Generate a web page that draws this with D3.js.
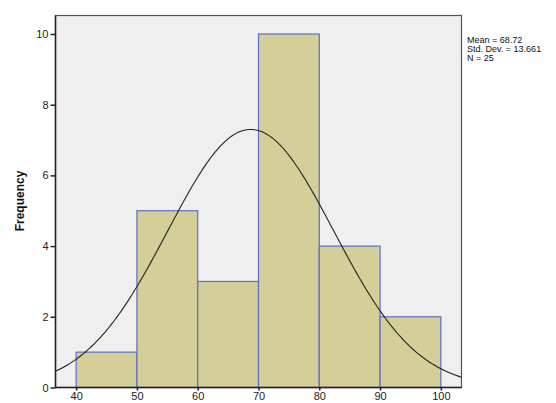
<!DOCTYPE html>
<html>
<head>
<meta charset="utf-8">
<script src="https://cdn.jsdelivr.net/npm/d3@7"></script>
<style>
body { margin: 0; background: #fff; }
text { font-family: Arial, "Liberation Sans", sans-serif; }
</style>
</head>
<body>
<svg id="chart" width="556" height="403"></svg>
<script>
// histogram bins (lower edge) and counts
var binStarts = [40, 50, 60, 70, 80, 90];
var binWidth = 10;
var counts = [1, 5, 3, 10, 4, 2];
var xTicks = [40, 50, 60, 70, 80, 90, 100];
var yTicks = [0, 2, 4, 6, 8, 10];
var statLines = ['Mean = 68.72', 'Std. Dev. = 13.661', 'N = 25'];
var mean = 68.72, sd = 13.661, n = 25;

var plot = { left: 55.5, right: 461.5, top: 15.5, bottom: 387.5 };

var svg = d3.select('#chart');

var x = d3.scaleLinear().domain([36.6, 103.4]).range([plot.left, plot.right]);
var y = d3.scaleLinear().domain([0, 10.5]).range([plot.bottom, plot.bottom - 10.5 * 35.35]);

// background
svg.append('rect')
	.attr('x', plot.left)
	.attr('y', plot.top)
	.attr('width', plot.right - plot.left)
	.attr('height', plot.bottom - plot.top)
	.attr('fill', '#efefef');

// bars
svg.selectAll('rect.bar')
	.data(binStarts)
	.enter()
	.append('rect')
	.attr('class', 'bar')
	.attr('x', d => x(d))
	.attr('width', d => x(d + binWidth) - x(d))
	.attr('y', (d, i) => y(counts[i]))
	.attr('height', (d, i) => y(0) - y(counts[i]))
	.attr('fill', '#d4cf98')
	.attr('stroke', '#5b6fc4')
	.attr('stroke-width', 1.2);

// normal curve from the stats
var curveX = d3.range(x.domain()[0], x.domain()[1] + 0.01, 0.25);
var line = d3.line()
	.x(d => x(d))
	.y(d => y(n * binWidth / (sd * Math.sqrt(2 * Math.PI)) * Math.exp(-0.5 * Math.pow((d - mean) / sd, 2))))
	.curve(d3.curveBasis);
svg.append('path')
	.datum(curveX)
	.attr('d', line)
	.attr('fill', 'none')
	.attr('stroke', '#222')
	.attr('stroke-width', 1.1);

// frame
svg.append('rect')
	.attr('x', plot.left)
	.attr('y', plot.top)
	.attr('width', plot.right - plot.left)
	.attr('height', plot.bottom - plot.top)
	.attr('fill', 'none')
	.attr('stroke', '#555')
	.attr('stroke-width', 1.2);

// axes
var yAxis = svg.append('g')
	.attr('transform', 'translate(' + plot.left + ',0)')
	.call(d3.axisLeft(y).tickValues(yTicks).tickSize(5).tickPadding(2));
var xAxis = svg.append('g')
	.attr('transform', 'translate(0,' + plot.bottom + ')')
	.call(d3.axisBottom(x).tickValues(xTicks).tickSize(3).tickPadding(2));
[yAxis, xAxis].forEach(g => {
	g.select('.domain').remove();
	g.selectAll('line').attr('stroke', '#222').attr('stroke-width', 1.5);
	g.selectAll('text').attr('font-size', 11).attr('fill', '#222')
		.attr('font-family', 'Arial, "Liberation Sans", sans-serif');
});
svg.append('line')
	.attr('x1', plot.left).attr('x2', plot.right)
	.attr('y1', plot.bottom).attr('y2', plot.bottom)
	.attr('stroke', '#222').attr('stroke-width', 1.5);
svg.append('line')
	.attr('x1', plot.left).attr('x2', plot.left)
	.attr('y1', plot.top).attr('y2', plot.bottom)
	.attr('stroke', '#222').attr('stroke-width', 1.5);

// axis title
svg.append('text')
	.attr('transform', 'translate(24,' + 201 + ') rotate(-90)')
	.attr('text-anchor', 'middle')
	.attr('font-size', 12)
	.attr('font-weight', 'bold')
	.attr('fill', '#111')
	.text('Frequency');

// stats box text
svg.append('g')
	.selectAll('text')
	.data(statLines)
	.enter()
	.append('text')
	.attr('x', 467)
	.attr('y', (d, i) => 43 + i * 9)
	.attr('font-size', 9)
	.attr('fill', '#111')
	.text(d => d);
</script>
</body>
</html>
